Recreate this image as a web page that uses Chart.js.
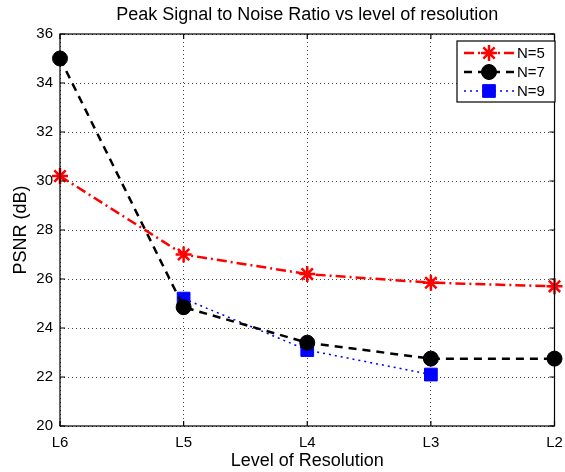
<!DOCTYPE html>
<html>
<head>
<meta charset="utf-8">
<script src="https://cdn.jsdelivr.net/npm/chart.js@4"></script>
<style>
  html, body { margin: 0; padding: 0; background: #fff; }
  #wrap { width: 565px; height: 472px; }
</style>
</head>
<body>
<div id="wrap"><canvas id="psnrChart" width="565" height="472"></canvas></div>
<script>
// Chart data
const levels = ['L6', 'L5', 'L4', 'L3', 'L2'];
const psnrN5 = [30.2, 27.0, 26.2, 25.85, 25.7];
const psnrN7 = [35.0, 24.85, 23.4, 22.75, 22.75];
const psnrN9 = [null, 25.2, 23.1, 22.1, null];
const yTicks = [20, 22, 24, 26, 28, 30, 32, 34, 36];
const chartTitle = 'Peak Signal to Noise Ratio vs level of resolution';

const FONT = 'Liberation Sans, Arial, Helvetica, sans-serif';

// Frame, inward ticks, title and legend (MATLAB look)
const matlabFrame = {
  id: 'matlabFrame',
  afterDatasetsDraw(chart) {
    const ctx = chart.ctx;
    const a = chart.chartArea;
    const xs = chart.scales.x;
    const ys = chart.scales.y;
    ctx.save();
    ctx.strokeStyle = '#000';
    ctx.lineWidth = 1.2;
    ctx.setLineDash([]);
    ctx.strokeRect(a.left, a.top, a.right - a.left, a.bottom - a.top);

    // inward ticks
    ctx.beginPath();
    levels.forEach((l, i) => {
      const x = xs.getPixelForValue(i);
      ctx.moveTo(x, a.bottom); ctx.lineTo(x, a.bottom - 5);
      ctx.moveTo(x, a.top); ctx.lineTo(x, a.top + 5);
    });
    yTicks.forEach(v => {
      const y = ys.getPixelForValue(v);
      ctx.moveTo(a.left, y); ctx.lineTo(a.left + 5, y);
      ctx.moveTo(a.right, y); ctx.lineTo(a.right - 5, y);
    });
    ctx.stroke();

    // title, centred over the axes
    ctx.fillStyle = '#000';
    ctx.font = '18px ' + FONT;
    ctx.textAlign = 'center';
    ctx.textBaseline = 'middle';
    ctx.fillText(chartTitle, (a.left + a.right) / 2, 15);

    // legend box
    const bx = 457, by = 41, bw = 98, bh = 61;
    ctx.fillStyle = '#fff';
    ctx.fillRect(bx, by, bw, bh);
    ctx.strokeRect(bx, by, bw, bh);
    chart.data.datasets.forEach((ds, i) => {
      const y = by + 12 + i * 19;
      ctx.save();
      ctx.strokeStyle = ds.borderColor;
      ctx.lineWidth = ds.borderWidth;
      ctx.setLineDash(ds.borderDash);
      ctx.beginPath();
      ctx.moveTo(464, y); ctx.lineTo(514, y);
      ctx.stroke();
      ctx.setLineDash([]);
      ctx.fillStyle = ds.pointBackgroundColor;
      ctx.strokeStyle = ds.pointBorderColor;
      ctx.lineWidth = ds.pointBorderWidth;
      Chart.helpers.drawPoint(ctx, {
        pointStyle: ds.pointStyle,
        radius: ds.pointRadius,
        borderWidth: ds.pointBorderWidth,
        rotation: 0
      }, 489, y);
      ctx.restore();
      ctx.fillStyle = '#000';
      ctx.font = '15px ' + FONT;
      ctx.textBaseline = 'middle';
      ctx.textAlign = 'left';
      ctx.fillText(ds.label, 517, y + 1);
    });
    ctx.restore();
  }
};

const chart = new Chart(document.getElementById('psnrChart'), {
  type: 'line',
  data: {
    labels: levels,
    datasets: [
      {
        label: 'N=5',
        data: psnrN5,
        borderColor: '#ff0000',
        backgroundColor: '#ff0000',
        borderWidth: 2.5,
        borderDash: [10, 4, 2, 4],
        pointStyle: 'star',
        pointRadius: 8,
        pointBorderWidth: 2.5,
        pointBorderColor: '#ff0000',
        pointBackgroundColor: '#ff0000'
      },
      {
        label: 'N=7',
        data: psnrN7,
        borderColor: '#000000',
        backgroundColor: '#000000',
        borderWidth: 2.5,
        borderDash: [8, 6],
        pointStyle: 'circle',
        pointRadius: 7.5,
        pointBorderWidth: 1,
        pointBorderColor: '#000000',
        pointBackgroundColor: '#000000'
      },
      {
        label: 'N=9',
        data: psnrN9,
        borderColor: '#0000ff',
        backgroundColor: '#0000ff',
        borderWidth: 1.5,
        borderDash: [2, 4],
        pointStyle: 'rect',
        pointRadius: 9,
        pointBorderWidth: 1,
        pointBorderColor: '#0000ff',
        pointBackgroundColor: '#0000ff'
      }
    ]
  },
  options: {
    responsive: false,
    animation: false,
    spanGaps: false,
    layout: { padding: { left: 0, right: 7, top: 34, bottom: 0 } },
    plugins: {
      legend: { display: false },
      tooltip: { enabled: false },
      title: { display: false }
    },
    scales: {
      x: {
        type: 'category',
        offset: false,
        border: { display: false, dash: [1, 3] },
        grid: { color: '#444', lineWidth: 1, drawTicks: false },
        ticks: { color: '#000', font: { family: FONT, size: 15 }, padding: 8, maxRotation: 0, autoSkip: false },
        title: {
          display: true,
          text: 'Level of Resolution',
          color: '#000',
          font: { family: FONT, size: 18 },
          padding: { top: 0, bottom: 0 }
        },
        afterFit(scale) {
          scale.height = 46;
          scale.paddingLeft = 0;
          scale.paddingRight = 0;
        }
      },
      y: {
        min: 20,
        max: 36,
        border: { display: false, dash: [1, 3] },
        grid: { color: '#444', lineWidth: 1, drawTicks: false },
        afterBuildTicks(scale) {
          scale.ticks = yTicks.map(v => ({ value: v }));
        },
        ticks: { color: '#000', font: { family: FONT, size: 15 }, padding: 7 },
        title: {
          display: true,
          text: 'PSNR (dB)',
          color: '#000',
          font: { family: FONT, size: 18 },
          padding: { top: 10, bottom: 0 }
        },
        afterFit(scale) {
          scale.width = 60;
          scale.paddingTop = 0;
          scale.paddingBottom = 0;
        }
      }
    }
  },
  plugins: [matlabFrame]
});
</script>
</body>
</html>
